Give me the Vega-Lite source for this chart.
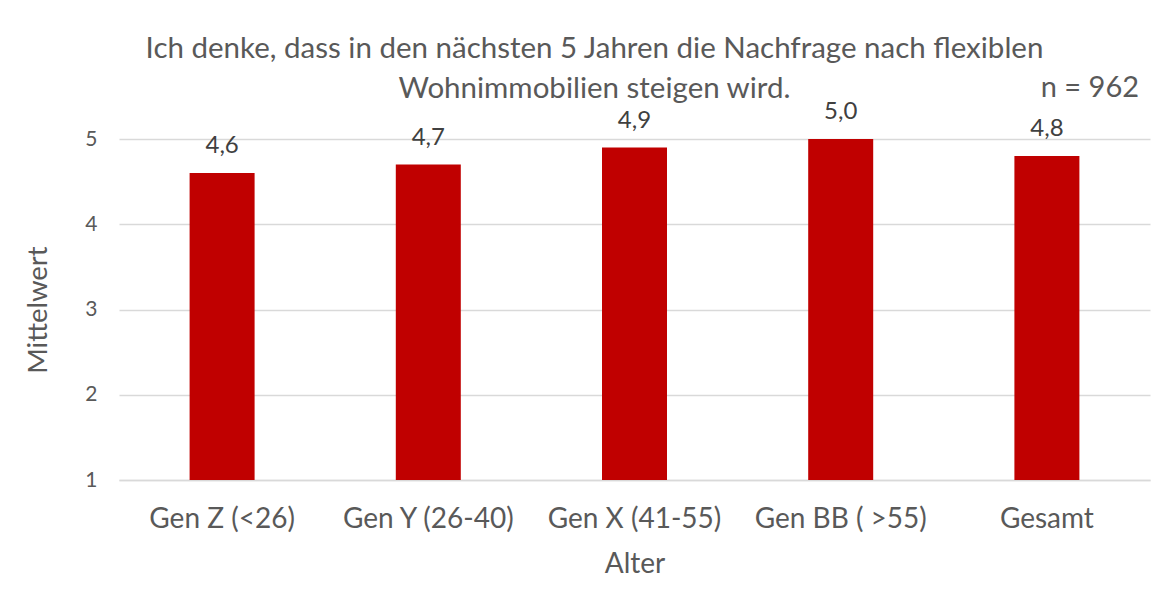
{
  "$schema": "https://vega.github.io/schema/vega-lite/v6.json",
  "autosize": {"type": "none"},
  "width": 1031,
  "height": 341,
  "padding": {"left": 119, "top": 139, "right": 26, "bottom": 127},
  "background": "white",
  "config": {
    "font": "Lato",
    "locale": {"number": {"decimal": ",", "thousands": ".", "grouping": [3], "currency": ["", " €"]}},
    "view": {"stroke": null},
    "title": {"fontSize": 29.5, "fontWeight": "normal", "color": "#595959", "lineHeight": 40, "anchor": "middle", "frame": "group", "offset": -30, "dx": -40}
  },
  "title": {"text": ["Ich denke, dass in den nächsten 5 Jahren die Nachfrage nach flexiblen", "Wohnimmobilien steigen wird."]},
  "datasets": {
    "bars": [
      {"Alter": "Gen Z (<26)", "Mittelwert": 4.6},
      {"Alter": "Gen Y (26-40)", "Mittelwert": 4.7},
      {"Alter": "Gen X (41-55)", "Mittelwert": 4.9},
      {"Alter": "Gen BB ( >55)", "Mittelwert": 5.0},
      {"Alter": "Gesamt", "Mittelwert": 4.8}
    ],
    "note": [{"text": "n = 962"}]
  },
  "layer": [
    {
      "data": {"name": "bars"},
      "mark": {"type": "bar", "color": "#C00000", "size": 65},
      "encoding": {
        "x": {"field": "Alter", "type": "nominal", "sort": null, "title": "Alter",
          "axis": {"labelAngle": 0, "labelFontSize": 28, "labelColor": "#595959", "labelPadding": 25, "ticks": false, "domainColor": "#D9D9D9", "domainWidth": 1.5, "titleFontSize": 28, "titleFontWeight": "normal", "titleColor": "#595959", "titlePadding": 17}},
        "y": {"field": "Mittelwert", "type": "quantitative", "scale": {"domain": [1, 5]}, "title": "Mittelwert",
          "axis": {"values": [1, 2, 3, 4, 5], "format": "d", "labelFontSize": 21, "labelColor": "#595959", "labelPadding": 22, "ticks": false, "domain": false, "gridColor": "#D9D9D9", "gridWidth": 1.5, "titleFontSize": 27.5, "titleFontWeight": "normal", "titleColor": "#595959", "titlePadding": 32}},
        "y2": {"datum": 1}
      }
    },
    {
      "data": {"name": "bars"},
      "mark": {"type": "text", "fontSize": 24, "color": "#404040", "baseline": "alphabetic", "dy": -20},
      "encoding": {
        "x": {"field": "Alter", "type": "nominal", "sort": null},
        "y": {"field": "Mittelwert", "type": "quantitative"},
        "text": {"field": "Mittelwert", "type": "quantitative", "format": ".1f"}
      }
    },
    {
      "data": {"name": "note"},
      "mark": {"type": "text", "fontSize": 29, "color": "#595959", "baseline": "alphabetic", "dx": 43, "dy": -42},
      "encoding": {
        "x": {"datum": "Gesamt", "type": "nominal"},
        "y": {"datum": 5, "type": "quantitative"},
        "text": {"field": "text"}
      }
    }
  ]
}
